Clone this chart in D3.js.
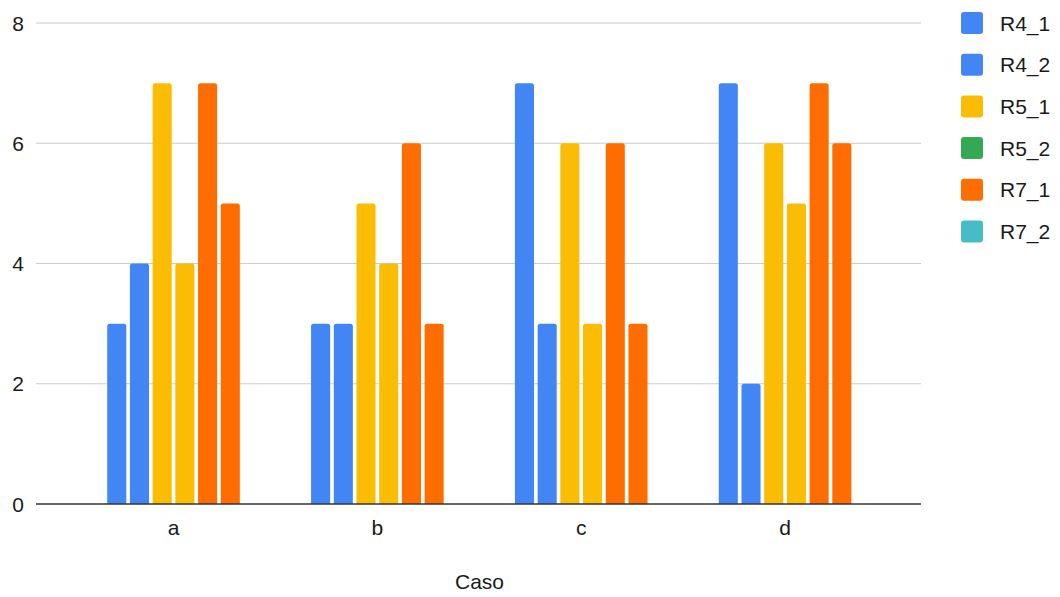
<!DOCTYPE html>
<html>
<head>
<meta charset="utf-8">
<script src="https://cdn.jsdelivr.net/npm/d3@7"></script>
<style>
  html, body { margin: 0; padding: 0; background: #fff; }
  svg { display: block; font-family: "Liberation Sans", Arial, Helvetica, sans-serif; }
</style>
</head>
<body>
<svg id="chart" width="1060" height="597"></svg>
<script>
// Cases on the x axis
const categories = ["a", "b", "c", "d"];
// Series names, in legend order
const seriesNames = ["R4_1", "R4_2", "R5_1", "R5_2", "R7_1", "R7_2"];
// One row per case, one value per series
const valuesA = [3, 4, 7, 4, 7, 5];
const valuesB = [3, 3, 5, 4, 6, 3];
const valuesC = [7, 3, 6, 3, 6, 3];
const valuesD = [7, 2, 6, 5, 7, 6];
const yTicks = [0, 2, 4, 6, 8];
// Fill used for each series' bars and for its legend swatch
const barColors = ["#4285F4", "#4285F4", "#FBBC04", "#FBBC04", "#FF6D01", "#FF6D01"];
const legendColors = ["#4285F4", "#4285F4", "#FBBC04", "#34A853", "#FF6D01", "#46BDC6"];

const rows = [valuesA, valuesB, valuesC, valuesD];

const svg = d3.select("#chart");

const plotLeft = 36, plotRight = 921;
const fontSize = 21;
const textColor = "#1a1a1a";
const y = d3.scaleLinear().domain([0, 8]).range([504, 23]);
const x0 = d3.scaleBand().domain(categories).range([71.6, 887]).paddingInner(0).paddingOuter(0);
const groupW = 132.6;
const x1 = d3.scaleBand().domain(seriesNames).range([-groupW / 2, groupW / 2]).paddingInner(0.16).paddingOuter(0);

// Horizontal gridlines
svg.append("g").selectAll("line").data(yTicks.filter(t => t !== 0)).join("line")
  .attr("x1", plotLeft).attr("x2", plotRight)
  .attr("y1", d => y(d)).attr("y2", d => y(d))
  .attr("stroke", "#cccccc").attr("stroke-width", 1);

// Y tick labels
svg.append("g").selectAll("text").data(yTicks).join("text")
  .attr("x", 24).attr("y", d => y(d)).attr("dy", "0.36em")
  .attr("text-anchor", "end").attr("font-size", fontSize).attr("fill", textColor)
  .text(d => d);

// Bars with slightly rounded tops
function barPath(xl, w, yt, yb, r) {
  r = Math.min(r, (yb - yt), w / 2);
  return `M${xl},${yb}V${yt + r}Q${xl},${yt} ${xl + r},${yt}H${xl + w - r}Q${xl + w},${yt} ${xl + w},${yt + r}V${yb}Z`;
}

const groups = svg.append("g").selectAll("g").data(categories).join("g")
  .attr("transform", d => `translate(${x0(d) + x0.bandwidth() / 2},0)`);

groups.selectAll("path").data((c, i) => seriesNames.map((s, j) => ({ s, j, v: rows[i][j] }))).join("path")
  .attr("d", d => barPath(x1(d.s), x1.bandwidth(), y(d.v), y(0), 2.5))
  .attr("fill", d => barColors[d.j]);

// Baseline
svg.append("line")
  .attr("x1", plotLeft).attr("x2", plotRight)
  .attr("y1", y(0)).attr("y2", y(0))
  .attr("stroke", "#333").attr("stroke-width", 1.4);

// Category labels
svg.append("g").selectAll("text").data(categories).join("text")
  .attr("x", d => x0(d) + x0.bandwidth() / 2).attr("y", 527).attr("dy", "0.36em")
  .attr("text-anchor", "middle").attr("font-size", fontSize).attr("fill", textColor)
  .text(d => d);

// Axis title
svg.append("text")
  .attr("x", (plotLeft + plotRight) / 2 + 1).attr("y", 581).attr("dy", "0.36em")
  .attr("text-anchor", "middle").attr("font-size", fontSize).attr("fill", textColor)
  .text("Caso");

// Legend
const legend = svg.append("g").selectAll("g").data(seriesNames).join("g")
  .attr("transform", (d, i) => `translate(961,${23 + i * 41.7})`);
legend.append("rect")
  .attr("x", 0).attr("y", -11).attr("width", 22).attr("height", 22).attr("rx", 3)
  .attr("fill", (d, i) => legendColors[i]);
legend.append("text")
  .attr("x", 39).attr("y", 0).attr("dy", "0.36em")
  .attr("font-size", fontSize).attr("fill", textColor)
  .text(d => d);
</script>
</body>
</html>
